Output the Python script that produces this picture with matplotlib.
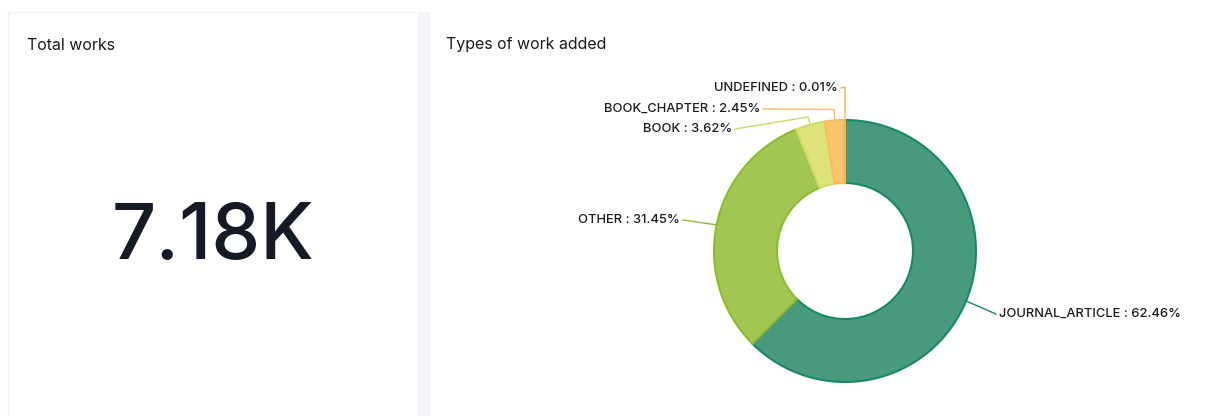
import numpy as np
import matplotlib.pyplot as plt
from matplotlib.patches import Rectangle

plt.rcParams['font.family'] = ['Inter', 'DejaVu Sans']

# data
total_label = "7.18K"
work_types = ["JOURNAL_ARTICLE", "OTHER", "BOOK", "BOOK_CHAPTER", "UNDEFINED"]
shares = [62.46, 31.45, 3.62, 2.45, 0.01]

fills = ["#489a7f", "#a2c652", "#dde27a", "#fbc56d", "#f9b94f"]
edges = ["#17896a", "#8ebb2c", "#d3da62", "#f8bd5c", "#f7b44a"]

W, H = 1222, 416
fig = plt.figure(figsize=(W / 100, H / 100), dpi=100)
ax = fig.add_axes([0, 0, 1, 1])


def fy(y):
    # pixel row from the top -> data y
    return H - y


# panel background / separator
ax.add_patch(Rectangle((418, 0), 12, fy(12), color="#f4f5f8", lw=0, zorder=0))
ax.plot([8, 8], [0, fy(12)], color="#f0f1f3", lw=1, zorder=0)
ax.plot([8, 418], [fy(12), fy(12)], color="#f4f5f7", lw=1, zorder=0)

ax.text(27, fy(45), "Total works", fontsize=11.5, color="#1b1b1f", va="center", ha="left")
ax.text(446, fy(45), "Types of work added", fontsize=11.5, color="#1b1b1f", va="center", ha="left")
ax.text(213, fy(238), total_label, fontsize=56, color="#151a24", va="center", ha="center",
        fontweight="medium")

cx, cy, R = 845, fy(251), 131
wedges, _ = ax.pie(shares, radius=R, center=(cx, cy), startangle=90, counterclock=False,
                   colors=fills, wedgeprops=dict(width=63, linewidth=1.5))
for w, ec in zip(wedges, edges):
    w.set_edgecolor(ec)

# label placement (text anchor, pixel coords) and radial elbow length
text_pos = [(999, 314), (680, 220), (732, 129), (760, 109), (838, 88)]
elbow_len = [0, 0, 8, 11, 33]
text_ha = ["left", "right", "right", "right", "right"]

for w, name, val, (tx, ty), el, ha, ec in zip(wedges, work_types, shares, text_pos,
                                              elbow_len, text_ha, edges):
    mid = np.deg2rad((w.theta1 + w.theta2) / 2)
    ax0, ay0 = cx + R * np.cos(mid), cy + R * np.sin(mid)
    ex, ey = cx + (R + el) * np.cos(mid), cy + (R + el) * np.sin(mid)
    if name == "UNDEFINED":
        ex = ax0
    gap = 3 if ha == "left" else -3
    ax.plot([ax0, ex, tx - gap], [ay0, ey, fy(ty)], color=ec, lw=1, zorder=3)
    ax.text(tx, fy(ty), f"{name} : {val:.2f}%", fontsize=9.3, color="#1b1b1f",
            ha=ha, va="center", fontweight="medium")

ax.set_xlim(0, W)
ax.set_ylim(0, H)
ax.set_aspect("equal")
ax.axis("off")

fig.savefig("out.png", dpi=100, facecolor="white")
